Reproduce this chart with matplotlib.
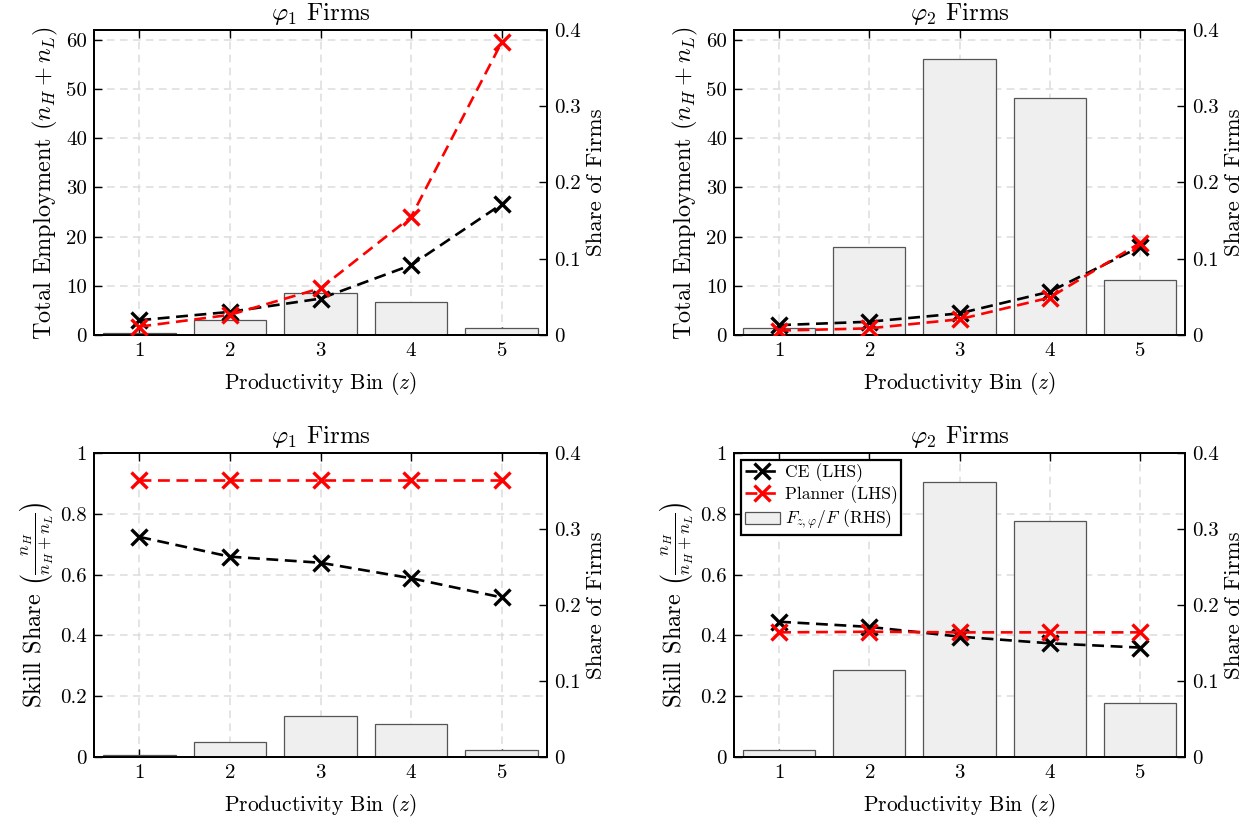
import numpy as np
import matplotlib
matplotlib.use("Agg")
import matplotlib.pyplot as plt
from matplotlib.ticker import FuncFormatter

plt.rcParams['font.family'] = 'cmr10'
plt.rcParams['mathtext.fontset'] = 'cm'
plt.rcParams['axes.formatter.use_mathtext'] = True
plt.rcParams['axes.unicode_minus'] = False

bins = [1, 2, 3, 4, 5]

# share of firms in each bin (RHS axis)
share_phi1 = [0.002, 0.0197, 0.0546, 0.0437, 0.0096]
share_phi2 = [0.0096, 0.115, 0.3624, 0.311, 0.0715]

# total employment (LHS axis, top row)
emp_ce_phi1 = [3.0, 4.7, 7.4, 14.2, 26.6]
emp_pl_phi1 = [1.7, 4.1, 9.5, 24.0, 59.5]
emp_ce_phi2 = [2.0, 2.7, 4.4, 8.8, 17.9]
emp_pl_phi2 = [0.9, 1.35, 3.2, 7.6, 18.7]

# skill share (LHS axis, bottom row)
skill_ce_phi1 = [0.724, 0.659, 0.639, 0.588, 0.525]
skill_pl_phi1 = [0.912, 0.912, 0.912, 0.912, 0.912]
skill_ce_phi2 = [0.445, 0.428, 0.396, 0.374, 0.360]
skill_pl_phi2 = [0.410, 0.412, 0.410, 0.410, 0.410]

legend_labels = ['CE (LHS)', 'Planner (LHS)', r'$F_{z,\varphi}/F$ (RHS)']

fmt = FuncFormatter(lambda v, p: '%g' % round(v, 6))

fig = plt.figure(figsize=(12.53, 8.23), dpi=100)

W, H = 1253, 823


def rect(x0, x1, y0, y1):
    # pixel box -> figure fraction
    return [x0 / W, 1 - y1 / H, (x1 - x0) / W, (y1 - y0) / H]


def panel(box, ce, pl, share, ylim, yticks, ylabel, title, legend=False):
    ax = fig.add_axes(box)
    ax2 = ax.twinx()
    ax3 = fig.add_axes(box, sharex=ax, sharey=ax)
    ax.set_zorder(1)
    ax2.set_zorder(2)
    ax3.set_zorder(3)
    ax2.patch.set_visible(False)
    ax3.patch.set_visible(False)

    bars = ax2.bar(bins, share, width=0.8, color='#efefef', edgecolor='#555555', linewidth=0.9)
    ax2.set_ylim(0, 0.4)
    ax2.set_yticks([0, 0.1, 0.2, 0.3, 0.4])
    ax2.yaxis.set_major_formatter(fmt)
    ax2.set_ylabel('Share of Firms', fontsize=16.5, labelpad=4)
    ax2.tick_params(axis='y', direction='in', length=6, width=1, labelsize=15, pad=5)

    l1, = ax3.plot(bins, ce, color='black', linestyle='--', dashes=(4.5, 2.5), linewidth=1.9,
                   marker='x', markersize=11, markeredgewidth=2.4)
    l2, = ax3.plot(bins, pl, color='red', linestyle='--', dashes=(4.5, 2.5), linewidth=1.9,
                   marker='x', markersize=11, markeredgewidth=2.4)
    ax3.axis('off')

    ax.set_xlim(0.5, 5.5)
    ax.set_ylim(*ylim)
    ax.set_xticks(bins)
    ax.set_yticks(yticks)
    ax.yaxis.set_major_formatter(fmt)
    ax.grid(True, linestyle=(0, (5, 3.5)), color='#dcdcdc', linewidth=1.1)
    ax.set_axisbelow(True)
    ax.tick_params(axis='both', direction='in', length=6, width=1, labelsize=15, pad=5)
    ax.tick_params(axis='x', top=True)
    ax.set_xlabel('Productivity Bin $(z)$', fontsize=15.5, labelpad=7)
    ax.set_ylabel(ylabel, fontsize=17.5, labelpad=4)
    ax.set_title(title, fontsize=18, pad=7)
    for a in (ax, ax2):
        for s in a.spines.values():
            s.set_linewidth(1.4)
            s.set_color('black')

    if legend:
        leg = ax3.legend([l1, l2, bars], legend_labels, loc='upper left', fontsize=12.6,
                         fancybox=False, framealpha=1, edgecolor='black', handlelength=2.0,
                         borderaxespad=0.4, borderpad=0.2, labelspacing=0.2, handletextpad=0.3)
        leg.get_frame().set_linewidth(1.6)
    return ax


emp_label = r'Total Employment $(n_H + n_L)$'
skill_label = r'Skill Share $\left(\frac{n_H}{n_H+n_L}\right)$'

panel(rect(94, 547, 30, 335), emp_ce_phi1, emp_pl_phi1, share_phi1, (0, 62),
      [0, 10, 20, 30, 40, 50, 60], emp_label, r'$\varphi_1$ Firms')
panel(rect(734, 1185, 30, 335), emp_ce_phi2, emp_pl_phi2, share_phi2, (0, 62),
      [0, 10, 20, 30, 40, 50, 60], emp_label, r'$\varphi_2$ Firms')
panel(rect(94, 547, 453, 757), skill_ce_phi1, skill_pl_phi1, share_phi1, (0, 1),
      [0, 0.2, 0.4, 0.6, 0.8, 1], skill_label, r'$\varphi_1$ Firms')
panel(rect(734, 1185, 453, 757), skill_ce_phi2, skill_pl_phi2, share_phi2, (0, 1),
      [0, 0.2, 0.4, 0.6, 0.8, 1], skill_label, r'$\varphi_2$ Firms', legend=True)

fig.savefig('out.png', dpi=100)
